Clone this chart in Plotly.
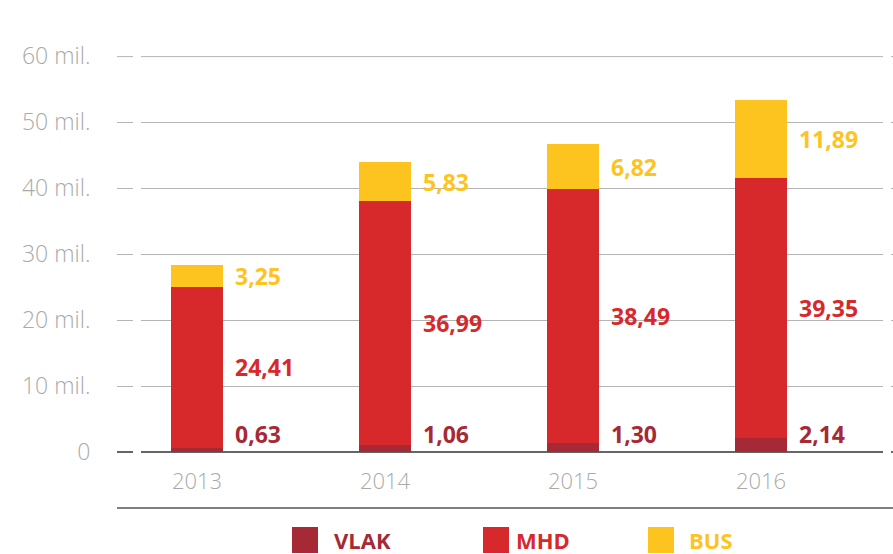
import plotly.graph_objects as go

years = ['2013', '2014', '2015', '2016']
vlak = [0.63, 1.06, 1.30, 2.14]
mhd = [24.41, 36.99, 38.49, 39.35]
bus = [3.25, 5.83, 6.82, 11.89]

tick_vals = [0, 10, 20, 30, 40, 50, 60]
tick_text = ['0', '10 mil.', '20 mil.', '30 mil.', '40 mil.', '50 mil.', '60 mil.']

series = [('VLAK', vlak, '#a52a35'), ('MHD', mhd, '#d7282b'), ('BUS', bus, '#fdc41f')]

W, H = 893, 554
left, right, top, bottom = 117, 0, 56, 102
plot_h = H - top - bottom
plot_w = W - left - right


def fmt(v):
    return f'{v:.2f}'.replace('.', ',')


fig = go.Figure()
for name, vals, col in series:
    fig.add_trace(go.Bar(x=years, y=vals, name=name, marker_color=col,
                         marker_line_width=0, width=0.277, showlegend=False))

# value labels to the right of each segment
annotations = []
for i, yr in enumerate(years):
    base = 0
    for name, vals, col in series:
        v = vals[i]
        if name == 'VLAK':
            y, ya = 0, 'bottom'
        else:
            y, ya = base + v / 2, 'middle'
        annotations.append(dict(x=i + 0.138, y=y, xref='x', yref='y', text=fmt(v),
                                showarrow=False, xanchor='left', yanchor=ya, xshift=10,
                                font=dict(family='Open Sans', size=23, color=col, weight=700)))
        base += v

# custom legend at the bottom
shapes = []
legend_items = [(292, 332), (483, 514), (648, 687)]
for (sx, tx), (name, vals, col) in zip(legend_items, series):
    shapes.append(dict(type='rect', xref='paper', yref='paper',
                       x0=(sx - left) / plot_w, x1=(sx + 26 - left) / plot_w,
                       y0=(H - bottom - 553) / plot_h, y1=(H - bottom - 527) / plot_h,
                       fillcolor=col, line_width=0))
    annotations.append(dict(x=(tx - left) / plot_w, y=(H - bottom - 540) / plot_h,
                            xref='paper', yref='paper', text=name, showarrow=False,
                            xanchor='left', yanchor='middle',
                            font=dict(family='Open Sans', size=22, color=col, weight=700)))

# top grid line (plotly skips the one on the plot edge)
shapes.append(dict(type='line', xref='paper', yref='paper', x0=0, x1=1, y0=0.9985, y1=0.9985,
                   line=dict(color='#b4b4b4', width=1), layer='below'))

# gaps in the grid lines
for gx0, gx1 in [(133, 141), (883, 891)]:
    shapes.append(dict(type='rect', xref='paper', yref='paper',
                       x0=(gx0 - left) / plot_w, x1=(gx1 - left) / plot_w,
                       y0=-0.01, y1=1.01, fillcolor='white', line_width=0, layer='above'))

# bottom rule under the year labels
shapes.append(dict(type='line', xref='paper', yref='paper', x0=0, x1=1,
                   y0=(H - bottom - 508) / plot_h, y1=(H - bottom - 508) / plot_h,
                   line=dict(color='#555555', width=1.5)))

fig.update_layout(
    barmode='stack',
    width=W, height=H,
    margin=dict(l=left, r=right, t=top, b=bottom),
    plot_bgcolor='white', paper_bgcolor='white',
    annotations=annotations, shapes=shapes,
    xaxis=dict(type='category', range=[-0.4255, 3.702], showgrid=False,
               showline=False, ticks='outside', ticklen=10, tickcolor='white',
               tickfont=dict(family='Open Sans', size=22, color='#aaaaaa', weight=300)),
    yaxis=dict(range=[0, 60], tickvals=tick_vals, ticktext=tick_text,
               showgrid=True, gridcolor='#b4b4b4', gridwidth=1,
               zeroline=True, zerolinecolor='#666666', zerolinewidth=1.5,
               ticks='outside', ticklen=21, tickcolor='white',
               tickfont=dict(family='Open Sans', size=23, color='#aaaaaa', weight=300)),
)

fig.write_html('out.html', config={'displayModeBar': False},
               post_script="document.body.style.margin='0';")
